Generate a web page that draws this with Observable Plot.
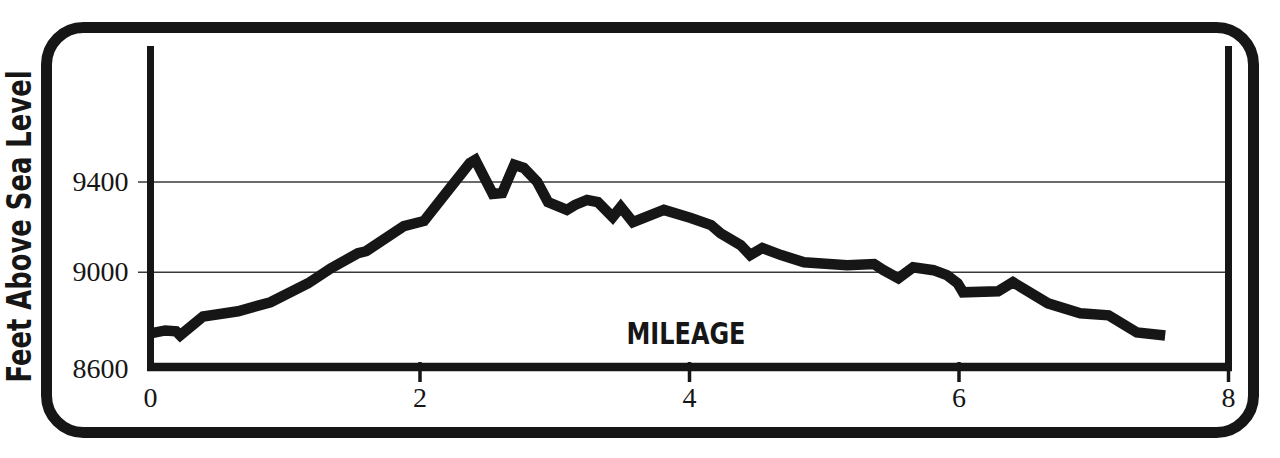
<!DOCTYPE html>
<html><head><meta charset="utf-8">
<script src="https://cdn.jsdelivr.net/npm/d3@7"></script>
<script src="https://cdn.jsdelivr.net/npm/@observablehq/plot@0.6"></script>
<style>html,body{margin:0;padding:0;background:#fff;} svg{display:block}</style>
</head><body><div id="chart"></div>
<script>
const miles = [0, 0.11, 0.19, 0.22, 0.39, 0.65, 0.89, 1.17, 1.34, 1.54, 1.60, 1.88, 2.03, 2.17, 2.37, 2.41, 2.54, 2.61, 2.70, 2.77, 2.87, 2.95, 3.09, 3.15, 3.24, 3.32, 3.43, 3.49, 3.58, 3.81, 4.01, 4.16, 4.23, 4.38, 4.45, 4.54, 4.68, 4.85, 5.17, 5.37, 5.44, 5.55, 5.66, 5.81, 5.91, 5.99, 6.03, 6.29, 6.40, 6.66, 6.90, 7.11, 7.32, 7.53];
const elevation = [8729, 8742, 8738, 8720, 8804, 8827, 8867, 8951, 9018, 9084, 9093, 9204, 9227, 9333, 9484, 9498, 9347, 9351, 9476, 9462, 9400, 9311, 9276, 9298, 9320, 9311, 9244, 9289, 9222, 9276, 9240, 9209, 9173, 9120, 9076, 9107, 9076, 9044, 9031, 9036, 9009, 8973, 9022, 9009, 8987, 8951, 8911, 8916, 8956, 8862, 8818, 8809, 8733, 8720];
const xTicks = [2, 4, 6, 8];
const xTickLabels = [0, 2, 4, 6, 8];
const yGridTicks = [9000, 9400];
const yTickLabels = [9000, 9400];
const yBaseLabel = [8600];
const yTitle = "Feet Above Sea Level";
const xTitle = "MILEAGE";

const profile = miles.map((m, i) => ({mile: m, feet: elevation[i]}));
const ink = "#161616";

const chart = Plot.plot({
  width: 1280,
  height: 458,
  marginLeft: 150,
  marginRight: 52,
  marginTop: 46,
  marginBottom: 96,
  style: {background: "#fff", fontFamily: "'Liberation Serif', serif"},
  x: {domain: [0, 8], axis: null},
  y: {domain: [8600, 10000], axis: null},
  marks: [
    Plot.frame({rx: 37, stroke: ink, strokeWidth: 11, insetLeft: -104, insetRight: -25, insetTop: -19, insetBottom: -70}),
    Plot.ruleY(yGridTicks, {stroke: "#3a3a3a", strokeWidth: 1.6, insetLeft: -12}),
    Plot.tickX(xTicks, {x: d => d, frameAnchor: "bottom", y: null, stroke: ink, strokeWidth: 3.5, insetTop: 316, insetBottom: -20}),
    Plot.ruleX([0, 8], {stroke: ink, strokeWidth: 7, insetBottom: -9}),
    Plot.ruleY([8600], {stroke: ink, strokeWidth: 8.5, dy: 4.5, insetLeft: -3, insetRight: -4}),
    Plot.line(profile, {x: "mile", y: "feet", stroke: ink, strokeWidth: 10.5, strokeLinejoin: "miter", strokeMiterlimit: 4, strokeLinecap: "butt"}),
    Plot.text(xTickLabels, {x: d => d, frameAnchor: "bottom", dy: 36, text: d => String(d), fontSize: 28, fill: ink, lineAnchor: "middle", textAnchor: "middle"}),
    Plot.text(yTickLabels, {y: d => d, frameAnchor: "left", dx: -22, text: d => String(d), fontSize: 28, fill: ink, lineAnchor: "middle", textAnchor: "end"}),
    Plot.text(yBaseLabel, {y: d => d, frameAnchor: "left", dx: -22, dy: 7, text: d => String(d), fontSize: 28, fill: ink, lineAnchor: "middle", textAnchor: "end"}),
    Plot.text([yTitle], {frameAnchor: "left", dx: -130, dy: 22, rotate: -90, text: d => d, fontSize: 33, fontWeight: "bold", fontFamily: "'DejaVu Sans Condensed', 'DejaVu Sans', sans-serif", fill: ink, lineAnchor: "middle", textAnchor: "middle"}),
    Plot.text([xTitle], {frameAnchor: "bottom", dx: -3.5, dy: -28.5, text: d => d, fontSize: 31, fontWeight: "bold", fontFamily: "'DejaVu Sans Condensed', 'DejaVu Sans', sans-serif", fill: ink, lineAnchor: "middle", textAnchor: "middle"})
  ]
});

const sel = d3.select(chart);
sel.selectAll("text").filter(function() { return this.textContent === yTitle; })
  .attr("textLength", 312).attr("lengthAdjust", "spacingAndGlyphs").style("font-stretch", "condensed");
sel.selectAll("text").filter(function() { return this.textContent === xTitle; })
  .attr("textLength", 119).attr("lengthAdjust", "spacingAndGlyphs").style("font-stretch", "condensed");

document.getElementById("chart").appendChild(chart);
</script>
</body></html>
